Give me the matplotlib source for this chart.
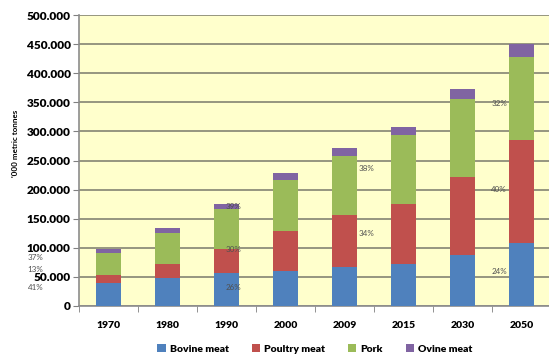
import matplotlib
matplotlib.use("Agg")
import matplotlib.pyplot as plt
import numpy as np

years = ["1970", "1980", "1990", "2000", "2009", "2015", "2030", "2050"]
bovine = [40000, 47600, 56000, 60700, 66500, 73000, 87000, 108000]
poultry = [13000, 24400, 42000, 68300, 89500, 103000, 135000, 177000]
pork = [38600, 53000, 69000, 87500, 102000, 118000, 133000, 142600]
ovine = [6400, 9500, 9000, 12500, 13000, 14000, 17000, 22400]
series_names = ["Bovine meat", "Poultry meat", "Pork", "Ovine meat"]
colors = ["#4F81BD", "#C0504D", "#9BBB59", "#8064A2"]

# share labels: (category index, x offset in categories, y value, text)
share_labels = [
    (0, -1.24, 83000, "37%"),
    (0, -1.24, 62000, "13%"),
    (0, -1.24, 31000, "41%"),
    (2, 0.12, 171000, "39%"),
    (2, 0.12, 97500, "30%"),
    (2, 0.12, 31000, "26%"),
    (4, 0.38, 237000, "38%"),
    (4, 0.38, 125000, "34%"),
    (7, -0.38, 348000, "32%"),
    (7, -0.38, 200000, "40%"),
    (7, -0.38, 60000, "24%"),
]

plt.rcParams["font.family"] = ["Lato", "DejaVu Sans"]

fig = plt.figure(figsize=(5.49, 3.56), dpi=100)
ax = fig.add_axes([79 / 549, 50 / 356, 472 / 549, 291 / 356])
ax.set_facecolor("#FFFFCC")

x = np.arange(len(years))
bottom = np.zeros(len(years))
for vals, name, col in zip([bovine, poultry, pork, ovine], series_names, colors):
    ax.bar(x, vals, width=0.41, bottom=bottom, color=col, label=name, zorder=3)
    bottom += np.array(vals)

ax.set_xlim(-0.5, len(years) - 0.5)
ax.set_ylim(0, 500000)
ax.set_yticks(np.arange(0, 500001, 50000))
ax.set_yticklabels([f"{v:,}".replace(",", ".") if v else "0"
                    for v in range(0, 500001, 50000)],
                   fontsize=8.5, fontweight="heavy")
ax.yaxis.grid(True, color="#8E8E7A", linewidth=1.3, zorder=0)
ax.set_xticks(x)
ax.set_xticklabels(years, fontsize=7.5, fontweight="heavy")
ax.set_xticks(np.arange(-0.5, len(years), 1), minor=True)
ax.tick_params(axis="x", which="major", length=0, pad=11)
ax.tick_params(axis="x", which="minor", length=4, color="#808080")
ax.tick_params(axis="y", length=4, color="#808080", pad=2)

for s in ["top", "right"]:
    ax.spines[s].set_visible(False)
ax.spines["left"].set_color("#8C8C8C")
ax.spines["bottom"].set_color("#8C8C8C")
ax.spines["left"].set_linewidth(1.2)
ax.spines["bottom"].set_linewidth(1.2)

ax.set_ylabel("'000 metric tonnes", fontsize=5.8, fontweight="bold")
ax.yaxis.set_label_coords(-0.128, 0.56)

for i, dx, yv, txt in share_labels:
    ax.text(i + dx, yv, txt, fontsize=5.8, color="#505050", ha="center",
            va="center", zorder=4, clip_on=False)

ax.legend(loc="upper center", bbox_to_anchor=(0.5, -0.1), ncol=4,
          frameon=False, prop={"weight": "heavy", "size": 7.5},
          handlelength=0.8, handleheight=0.8, handletextpad=0.4,
          columnspacing=2.2)

fig.savefig("out.png", dpi=100)
